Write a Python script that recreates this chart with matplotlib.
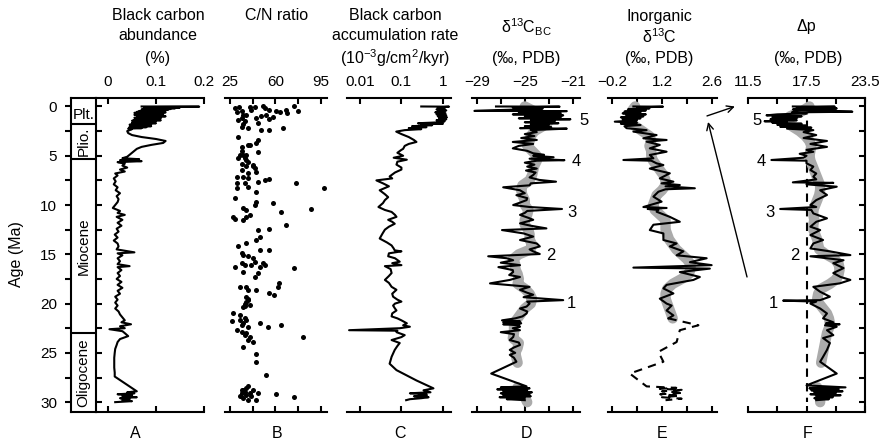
import matplotlib
matplotlib.use("Agg")
import matplotlib.pyplot as plt
from matplotlib.ticker import FixedLocator, NullLocator

plt.rcParams['font.family'] = ['Liberation Sans', 'DejaVu Sans']
plt.rcParams['mathtext.fontset'] = 'custom'
plt.rcParams['mathtext.rm'] = 'Liberation Sans'
plt.rcParams['mathtext.it'] = 'Liberation Sans:italic'
plt.rcParams['mathtext.bf'] = 'Liberation Sans:bold'

# ---------------------------------------------------------------- data
# geologic epochs: (name, top age, base age) in Ma
epochs = [("Plt.", 0.0, 1.8), ("Plio.", 1.8, 5.3),
          ("Miocene", 5.3, 23.0), ("Oligocene", 23.0, 31.0)]

# A: black carbon abundance (%) vs age (Ma)
bc_abundance = [
    (0.0, 0.07), (0.02, 0.19), (0.06, 0.08), (0.1, 0.15), (0.14, 0.075), (0.18, 0.14),
    (0.22, 0.08), (0.26, 0.13), (0.3, 0.07), (0.34, 0.125), (0.38, 0.075), (0.42, 0.12),
    (0.46, 0.065), (0.5, 0.11), (0.55, 0.06), (0.6, 0.12), (0.65, 0.055), (0.7, 0.1),
    (0.75, 0.06), (0.8, 0.115), (0.85, 0.055), (0.9, 0.105), (0.95, 0.06), (1.0, 0.12),
    (1.05, 0.065), (1.1, 0.1), (1.15, 0.055), (1.2, 0.11), (1.25, 0.06), (1.3, 0.095),
    (1.35, 0.055), (1.4, 0.11), (1.45, 0.05), (1.5, 0.1), (1.55, 0.055), (1.6, 0.095),
    (1.65, 0.05), (1.7, 0.1), (1.75, 0.05), (1.8, 0.09), (1.85, 0.045), (1.9, 0.085),
    (1.95, 0.05), (2.0, 0.09), (2.05, 0.045), (2.1, 0.08), (2.15, 0.045), (2.2, 0.07),
    (2.25, 0.042), (2.3, 0.05), (2.5, 0.04), (2.7, 0.042), (2.9, 0.05), (3.1, 0.07),
    (3.3, 0.1), (3.5, 0.12), (3.7, 0.115), (3.9, 0.09), (4.1, 0.07), (4.3, 0.06),
    (4.5, 0.055), (4.7, 0.05), (4.9, 0.045), (5.1, 0.04), (5.25, 0.03), (5.35, 0.065),
    (5.45, 0.025), (5.55, 0.07), (5.65, 0.02), (5.8, 0.035), (6.0, 0.03), (6.2, 0.04),
    (6.4, 0.025), (6.6, 0.035), (6.8, 0.015), (7.0, 0.02), (7.3, 0.012), (7.6, 0.016),
    (7.9, 0.012), (8.2, 0.02), (8.5, 0.016), (8.8, 0.025), (9.1, 0.018), (9.4, 0.022),
    (9.7, 0.02), (10.0, 0.015), (10.3, 0.01), (10.6, 0.025), (10.8, 0.02), (11.0, 0.035),
    (11.2, 0.018), (11.5, 0.03), (11.8, 0.02), (12.1, 0.028), (12.4, 0.018), (12.7, 0.022),
    (13.0, 0.014), (13.3, 0.02), (13.6, 0.012), (13.9, 0.02), (14.2, 0.022), (14.5, 0.018),
    (14.8, 0.055), (14.9, 0.02), (15.1, 0.03), (15.4, 0.02), (15.7, 0.025), (16.0, 0.02),
    (16.2, 0.045), (16.3, 0.02), (16.6, 0.028), (16.9, 0.02), (17.2, 0.025), (17.5, 0.018),
    (17.8, 0.028), (18.1, 0.02), (18.4, 0.03), (18.7, 0.02), (19.0, 0.025), (19.3, 0.015),
    (19.6, 0.02), (19.9, 0.015), (20.2, 0.02), (20.5, 0.015), (20.8, 0.022), (21.1, 0.025),
    (21.4, 0.03), (21.7, 0.035), (21.9, 0.028), (22.1, 0.048), (22.3, 0.025), (22.5, 0.035),
    (22.6, 0.003), (22.8, 0.03), (23.0, 0.035), (23.3, 0.042), (23.6, 0.025), (23.9, 0.02),
    (24.2, 0.018), (24.6, 0.015), (25.0, 0.014), (25.5, 0.013), (26.0, 0.013), (26.5, 0.013),
    (27.0, 0.014), (27.4, 0.014), (28.9, 0.06), (29.0, 0.04), (29.1, 0.055), (29.2, 0.02),
    (29.3, 0.05), (29.4, 0.03), (29.5, 0.06), (29.6, 0.025), (29.7, 0.045), (29.8, 0.03),
    (29.9, 0.05), (30.0, 0.015)]

# B: C/N ratio samples (ratio, age)
cn_ratio = [
    (28.8, 0.19), (31.8, 0.02), (33.9, 0.46), (30.1, 0.6), (40.2, 0.02), (44.0, 0.02),
    (50.4, 0.0), (52.2, 0.19), (55.4, 0.36), (60.5, 0.42), (63.1, 0.6), (68.1, 0.36),
    (68.9, 0.69), (74.5, 0.0), (77.0, 0.46), (41.5, 0.36), (35.1, 0.86), (37.7, 0.86),
    (33.9, 1.2), (31.3, 1.37), (36.4, 1.47), (45.3, 1.2), (49.1, 0.93), (52.9, 0.86),
    (54.7, 1.27), (58.0, 1.03), (35.1, 1.81), (33.9, 2.05), (38.9, 2.22), (46.5, 1.71),
    (49.1, 2.39), (55.4, 2.39), (65.6, 2.15), (31.3, 3.06), (46.5, 3.4), (45.3, 3.74),
    (40.2, 3.9), (46.5, 4.6), (33.9, 4.5), (35.1, 4.9), (31.3, 5.26), (37.0, 5.43),
    (33.9, 5.84), (37.7, 6.0), (42.7, 6.0), (44.0, 6.28), (33.9, 4.08), (38.9, 3.9),
    (32.6, 4.92), (37.7, 4.92), (36.4, 5.26), (38.9, 5.6), (42.7, 5.94), (33.9, 6.45),
    (38.9, 6.78), (45.3, 6.62), (30.1, 7.12), (35.1, 7.12), (38.9, 7.29), (46.5, 7.63),
    (51.6, 7.46), (55.4, 7.4), (75.8, 7.8), (30.1, 7.8), (36.4, 7.8), (38.9, 8.14),
    (45.3, 8.65), (30.1, 8.31), (28.8, 9.32), (35.1, 10.34), (37.7, 10.51), (44.0, 10.0),
    (45.3, 9.66), (58.0, 9.83), (64.3, 10.68), (68.1, 12.0), (27.5, 11.2), (28.8, 11.4),
    (35.1, 11.5), (37.7, 11.2), (40.2, 11.0), (46.5, 12.5), (55.4, 12.4), (47.8, 13.2),
    (45.3, 13.55), (37.7, 13.9), (31.3, 14.2), (33.9, 14.9), (35.1, 15.1), (38.9, 15.2),
    (47.8, 14.6), (55.4, 14.6), (42.7, 15.4), (44.0, 15.8), (50.4, 15.9), (51.6, 16.1),
    (28.8, 16.3), (33.9, 15.9), (36.4, 16.1), (41.5, 16.1), (47.8, 16.3), (74.5, 16.4),
    (35.1, 16.8), (44.0, 17.3), (46.5, 16.9), (32.6, 18.3), (37.7, 18.3), (38.9, 18.6),
    (45.3, 18.6), (63.0, 17.95), (61.8, 18.3), (55.4, 18.97), (59.2, 19.1), (38.9, 19.5),
    (37.7, 19.8), (36.4, 20.2), (35.1, 20.3), (97.3, 8.3), (87.6, 10.4),
    (37.7, 19.3), (38.9, 19.6), (36.4, 20.0), (40.2, 20.1), (27.5, 21.0), (32.6, 21.2),
    (36.4, 21.5), (32.6, 21.7), (37.7, 21.7), (35.1, 22.0), (33.9, 22.2), (38.9, 22.4),
    (47.8, 22.0), (54.1, 22.4), (64.3, 22.2), (30.1, 22.7), (33.9, 22.9), (37.7, 23.0),
    (36.4, 23.2), (40.2, 23.4), (38.9, 23.7), (42.7, 23.9), (35.1, 24.4), (45.3, 25.1),
    (45.3, 25.9), (52.9, 27.2), (38.9, 28.4), (37.7, 28.6), (35.1, 28.8), (33.9, 29.1),
    (32.6, 29.4), (37.7, 29.3), (41.5, 29.4), (42.7, 28.8), (46.5, 29.1), (45.3, 29.8),
    (38.9, 29.8), (60.5, 29.2), (74.5, 29.5), (80.8, 23.4), (36.4, 29.0), (40.2, 29.1),
    (33.9, 28.8), (35.1, 29.6), (26.3, 21.8)]

# C: black carbon accumulation rate (10^-3 g/cm2/kyr)
bc_accumulation = [
    (0.0, 0.3), (0.02, 1.4), (0.1, 0.75), (0.2, 1.1), (0.3, 0.7), (0.4, 1.2), (0.5, 0.8),
    (0.6, 0.65), (0.7, 1.15), (0.8, 0.7), (0.9, 1.2), (1.0, 0.75), (1.1, 1.25), (1.2, 0.8),
    (1.3, 1.2), (1.4, 0.7), (1.5, 1.1), (1.6, 0.9), (1.7, 0.25), (1.75, 1.0), (1.8, 0.3),
    (1.9, 0.55), (2.0, 0.18), (2.1, 0.4), (2.2, 0.15), (2.3, 0.3), (2.4, 0.12), (2.55, 0.075),
    (2.8, 0.1), (3.1, 0.15), (3.4, 0.2), (3.6, 0.23), (3.8, 0.15), (4.0, 0.12), (4.3, 0.11),
    (4.4, 0.1), (4.7, 0.08), (5.0, 0.11), (5.2, 0.065), (5.4, 0.135), (5.6, 0.08),
    (5.9, 0.076), (6.2, 0.1), (6.4, 0.1), (6.7, 0.07), (7.1, 0.052), (7.3, 0.06),
    (7.5, 0.025), (7.8, 0.036), (8.1, 0.05), (8.5, 0.03), (8.9, 0.04), (9.2, 0.048),
    (9.5, 0.04), (9.8, 0.036), (10.2, 0.028), (10.5, 0.04), (10.7, 0.058), (11.0, 0.07),
    (11.2, 0.076), (11.5, 0.048), (11.7, 0.06), (11.9, 0.069), (12.2, 0.05), (12.5, 0.04),
    (12.9, 0.035), (13.4, 0.03), (13.8, 0.045), (14.1, 0.058), (14.4, 0.065), (14.6, 0.069),
    (14.7, 0.1), (14.9, 0.05), (15.2, 0.048), (15.4, 0.07), (15.75, 0.091), (15.9, 0.06),
    (16.1, 0.1), (16.2, 0.04), (16.5, 0.055), (16.9, 0.058), (17.2, 0.05), (17.6, 0.04),
    (17.9, 0.05), (18.3, 0.058), (18.6, 0.076), (19.0, 0.06), (19.3, 0.063), (19.6, 0.08),
    (19.8, 0.1), (20.0, 0.07), (20.2, 0.063), (20.5, 0.07), (20.7, 0.076), (21.0, 0.06),
    (21.3, 0.058), (21.5, 0.08), (21.7, 0.1), (22.0, 0.135), (22.2, 0.11), (22.35, 0.16),
    (22.5, 0.091), (22.7, 0.0055), (22.75, 0.08), (22.9, 0.076), (23.2, 0.12), (23.4, 0.1),
    (23.7, 0.058), (24.0, 0.091), (24.3, 0.08), (24.7, 0.069), (25.4, 0.058), (26.1, 0.052),
    (26.75, 0.076), (27.8, 0.23), (28.6, 0.59), (28.7, 0.45), (28.8, 0.34), (29.0, 0.5),
    (29.1, 0.16), (29.2, 0.4), (29.3, 0.41), (29.4, 0.2), (29.5, 0.45), (29.6, 0.3),
    (29.7, 0.16), (29.8, 0.13)]

# D: d13C of black carbon (permil PDB)
d13c_bc = [
    (0.0, -27.4), (0.02, -22.1), (0.1, -26.0), (0.2, -23.5), (0.3, -25.5), (0.45, -29.2),
    (0.47, -21.5), (0.6, -25.5), (0.7, -22.0), (0.8, -26.0), (0.9, -21.8), (1.0, -25.0),
    (1.1, -22.0), (1.2, -25.5), (1.3, -21.2), (1.4, -24.5), (1.5, -22.5), (1.6, -25.0),
    (1.7, -22.2), (1.8, -24.5), (1.9, -23.0), (2.0, -25.0), (2.1, -22.8), (2.2, -25.4),
    (2.25, -21.5), (2.4, -24.5), (2.6, -24.0), (2.8, -25.0), (3.0, -24.2), (3.2, -25.3),
    (3.4, -24.0), (3.6, -26.0), (3.8, -24.3), (4.0, -25.5), (4.25, -26.0), (4.5, -24.8),
    (4.75, -24.3), (4.9, -23.4), (5.0, -24.3), (5.15, -22.6), (5.3, -24.6), (5.45, -21.7),
    (5.5, -24.0), (5.7, -25.0), (5.9, -24.2), (6.1, -24.8), (6.3, -24.0), (6.5, -24.9),
    (6.7, -24.1), (6.95, -24.3), (7.2, -24.6), (7.45, -23.8), (7.63, -22.4), (7.8, -24.5),
    (8.0, -24.6), (8.2, -26.8), (8.5, -25.4), (8.8, -25.0), (9.0, -25.7), (9.3, -24.8),
    (9.5, -24.85), (9.8, -25.5), (10.0, -25.97), (10.2, -24.6), (10.4, -21.9), (10.6, -24.8),
    (10.8, -25.0), (11.0, -25.4), (11.3, -24.7), (11.5, -24.3), (11.86, -25.4), (12.1, -24.5),
    (12.37, -23.2), (12.54, -26.9), (12.88, -25.1), (13.2, -24.3), (13.55, -25.4),
    (13.9, -24.0), (14.2, -23.75), (14.5, -24.6), (14.7, -24.3), (14.97, -23.75),
    (15.2, -28.05), (15.4, -26.5), (15.6, -25.97), (15.85, -27.0), (16.1, -25.4),
    (16.3, -27.2), (16.6, -26.0), (16.8, -25.97), (17.1, -26.3), (17.3, -25.4),
    (17.6, -26.25), (17.95, -27.9), (18.3, -24.6), (18.6, -25.4), (18.9, -24.8),
    (19.1, -24.3), (19.35, -25.1), (19.65, -21.8), (19.8, -24.8), (20.0, -24.6),
    (20.3, -24.85), (20.5, -25.4), (20.8, -24.8), (21.0, -24.85), (21.3, -25.2),
    (21.5, -25.8), (21.7, -26.9), (21.8, -25.4), (21.9, -26.8), (22.0, -25.3), (22.1, -26.8),
    (22.2, -25.5), (22.35, -25.4), (22.5, -26.0), (22.7, -25.4), (22.9, -27.0), (23.1, -25.9),
    (23.4, -25.97), (23.7, -26.25), (23.95, -25.5), (24.2, -25.4), (24.45, -25.9),
    (24.7, -26.25), (25.0, -25.8), (25.2, -26.25), (25.5, -25.9), (25.9, -25.7),
    (27.1, -27.8), (28.4, -24.85), (28.5, -27.0), (28.6, -24.6), (28.7, -27.3), (28.8, -24.8),
    (28.9, -26.8), (29.0, -24.4), (29.1, -27.0), (29.2, -24.6), (29.3, -26.8), (29.4, -24.5),
    (29.5, -27.1), (29.6, -25.0), (29.7, -26.5), (29.8, -25.0)]

d13c_bc_smooth_upper = [
    (0.0, -25.0), (0.5, -24.2), (1.0, -23.5), (1.5, -23.0), (2.0, -23.5), (2.5, -24.2),
    (3.0, -24.5), (3.5, -24.6), (4.0, -24.8), (4.5, -24.4), (5.0, -24.0), (5.5, -24.0),
    (6.0, -24.2), (6.5, -24.3), (7.0, -24.4), (7.5, -24.6), (8.0, -25.2), (8.5, -25.3),
    (9.0, -25.2), (9.5, -25.0), (10.0, -25.0), (10.5, -24.7), (11.0, -24.8), (11.5, -25.0),
    (12.0, -25.0), (12.5, -24.7), (13.0, -24.6), (13.5, -24.6), (14.0, -24.4), (14.5, -24.5),
    (15.0, -25.5), (15.5, -26.0), (16.0, -25.8), (16.5, -25.8), (17.0, -25.6), (17.5, -25.5),
    (18.0, -25.6), (18.5, -25.0), (19.0, -24.6), (19.5, -24.4), (20.0, -24.5), (20.5, -25.0),
    (21.0, -25.3), (21.5, -25.6), (22.0, -25.9), (22.5, -25.9), (23.0, -25.9), (23.5, -26.0),
    (24.0, -25.5), (24.5, -25.6), (25.0, -25.8), (25.5, -25.7), (26.0, -25.6)]
d13c_bc_smooth_lower = [(28.5, -25.6), (29.0, -25.4), (29.5, -25.0), (30.0, -24.8)]

# E: inorganic d13C (permil PDB)
d13c_inorg = [
    (0.0, 0.40), (0.02, 1.23), (0.1, 0.5), (0.19, 0.85), (0.3, 0.25), (0.4, 0.75),
    (0.52, 0.15), (0.6, 0.6), (0.7, 0.1), (0.8, 0.75), (0.9, 0.2), (1.0, 0.68), (1.1, 0.05),
    (1.2, 0.6), (1.3, 0.1), (1.4, 0.5), (1.54, -0.12), (1.65, 0.5), (1.75, 0.05),
    (1.88, 0.6), (2.0, 0.15), (2.2, 0.21), (2.4, 0.77), (2.55, 0.40), (2.9, 1.05),
    (3.23, 0.68), (3.4, 1.33), (3.57, 0.77), (3.9, 1.14), (4.25, 0.86), (4.59, 1.33),
    (4.92, 0.86), (5.26, 0.96), (5.43, 0.12), (5.5, 0.9), (5.77, 1.05), (5.94, 1.24),
    (6.3, 0.86), (6.78, 1.42), (7.3, 1.14), (7.63, 1.52), (7.8, 1.19), (7.97, 1.7),
    (8.1, 1.3), (8.3, 2.12), (8.4, 1.3), (8.65, 1.10), (9.15, 0.96), (9.66, 1.19),
    (10.2, 0.68), (10.3, 1.33), (10.4, 0.8), (10.5, 1.1), (10.68, 1.05), (11.2, 1.42),
    (11.7, 1.70), (12.0, 0.96), (12.54, 0.86), (12.88, 1.24), (13.55, 1.24), (13.9, 1.61),
    (14.2, 1.42), (14.7, 1.80), (15.1, 1.61), (15.4, 2.45), (15.8, 1.98), (16.1, 2.59),
    (16.35, 0.40), (16.45, 2.54), (16.8, 1.70), (17.3, 2.26), (17.6, 2.08), (18.1, 1.33),
    (18.46, 1.24), (18.97, 1.52), (19.5, 1.14), (20.0, 1.33), (20.2, 1.47), (20.7, 1.33),
    (21.2, 1.52), (21.5, 1.38)]
d13c_inorg_sparse = [
    (21.5, 1.38), (22.2, 2.22), (22.7, 1.70), (23.9, 1.61), (24.9, 1.10), (25.9, 1.24),
    (27.1, 0.30), (28.4, 0.77), (28.55, 1.6), (28.65, 1.14), (28.75, 1.75), (28.9, 1.2),
    (29.05, 1.8), (29.2, 1.15), (29.35, 1.7), (29.5, 1.2), (29.65, 1.75), (29.8, 1.3)]
d13c_inorg_smooth = [
    (0.0, 0.45), (0.5, 0.35), (1.0, 0.3), (1.5, 0.3), (2.0, 0.45), (2.5, 0.65), (3.0, 0.85),
    (3.5, 0.9), (4.0, 0.85), (4.5, 0.9), (5.0, 0.9), (5.5, 0.95), (6.0, 1.05), (6.5, 1.15),
    (7.0, 1.25), (7.5, 1.3), (8.0, 1.3), (8.5, 1.2), (9.0, 1.05), (9.5, 1.0), (10.0, 0.95),
    (10.5, 1.0), (11.0, 1.15), (11.5, 1.3), (12.0, 1.3), (12.5, 1.3), (13.0, 1.35),
    (13.5, 1.4), (14.0, 1.5), (14.5, 1.6), (15.0, 1.75), (15.5, 1.9), (16.0, 2.0),
    (16.5, 2.0), (17.0, 1.95), (17.5, 1.75), (18.0, 1.5), (18.5, 1.35), (19.0, 1.3),
    (19.5, 1.3), (20.0, 1.35), (20.5, 1.4), (21.0, 1.45), (21.5, 1.5)]

# F: isotopic fractionation, delta p (permil PDB)
delta_p = [
    (0.0, 16.1), (0.02, 20.4), (0.1, 16.5), (0.2, 20.6), (0.3, 16.1), (0.4, 18.5),
    (0.53, 22.2), (0.6, 16.0), (0.7, 17.5), (0.8, 14.5), (0.9, 13.4), (1.0, 17.0),
    (1.1, 14.0), (1.2, 16.5), (1.3, 13.8), (1.4, 16.5), (1.5, 13.2), (1.55, 15.5),
    (1.65, 14.0), (1.75, 17.0), (1.85, 14.5), (1.95, 17.5), (2.05, 14.8), (2.15, 18.0),
    (2.25, 15.5), (2.4, 18.2), (2.6, 17.2), (2.9, 18.5), (3.2, 17.2), (3.5, 19.6),
    (3.8, 17.9), (4.1, 19.6), (4.4, 17.5), (4.6, 18.2), (4.8, 16.8), (5.0, 17.5),
    (5.2, 17.2), (5.43, 13.9), (5.5, 17.5), (5.77, 17.5), (6.1, 18.2), (6.45, 17.9),
    (6.8, 18.5), (7.12, 18.2), (7.4, 18.5), (7.7, 16.1), (7.75, 20.25), (7.9, 17.5),
    (8.14, 20.6), (8.5, 18.9), (8.98, 19.6), (9.5, 18.5), (10.0, 17.9), (10.2, 18.5),
    (10.4, 14.8), (10.5, 18.0), (10.85, 18.2), (11.35, 19.6), (11.7, 18.5), (12.2, 17.9),
    (12.54, 18.9), (13.05, 17.9), (13.55, 19.2), (13.9, 18.2), (14.4, 17.9), (14.7, 19.9),
    (15.08, 22.0), (15.2, 17.9), (15.6, 21.3), (15.9, 20.25), (16.4, 21.3), (16.9, 20.25),
    (17.3, 21.0), (17.6, 22.0), (17.95, 20.9), (18.3, 18.2), (18.8, 18.9), (19.3, 19.9),
    (19.65, 18.9), (19.7, 15.1), (19.8, 18.5), (20.0, 17.9), (20.5, 18.9), (21.0, 19.6),
    (21.5, 19.2), (21.9, 20.25), (22.0, 19.5), (22.1, 20.9), (22.2, 19.4), (22.35, 20.6),
    (22.7, 19.6), (23.2, 20.25), (23.5, 19.2), (24.0, 19.9), (24.7, 19.6), (25.4, 19.2),
    (25.9, 18.9), (27.1, 20.6), (28.3, 17.5), (28.5, 21.5), (28.6, 17.8), (28.7, 20.8),
    (28.8, 18.0), (28.9, 21.2), (29.0, 18.3), (29.1, 20.5), (29.2, 17.9), (29.3, 21.0),
    (29.4, 18.5), (29.5, 20.2), (29.6, 18.3), (29.7, 19.8), (29.8, 18.5)]
delta_p_smooth_upper = [
    (0.0, 17.8), (0.5, 17.0), (1.0, 15.8), (1.5, 15.5), (2.0, 16.0), (2.5, 16.8), (3.0, 17.4),
    (3.5, 17.8), (4.0, 18.0), (4.5, 17.9), (5.0, 17.8), (5.5, 17.9), (6.0, 18.1), (6.5, 18.3),
    (7.0, 18.5), (7.5, 18.7), (8.0, 18.9), (8.5, 18.9), (9.0, 18.8), (9.5, 18.6), (10.0, 18.4),
    (10.5, 18.2), (11.0, 18.2), (11.5, 18.3), (12.0, 18.2), (12.5, 18.2), (13.0, 18.4),
    (13.5, 18.6), (14.0, 18.7), (14.5, 18.8), (15.0, 19.5), (15.5, 20.4), (16.0, 20.8),
    (16.5, 20.9), (17.0, 20.8), (17.5, 20.6), (18.0, 19.9), (18.5, 19.0), (19.0, 18.7),
    (19.5, 18.6), (20.0, 18.8), (20.5, 19.2), (21.0, 19.6), (21.5, 19.8), (22.0, 19.9),
    (22.5, 19.8), (23.0, 19.6), (23.5, 19.5), (24.0, 19.4), (24.5, 19.3), (25.0, 19.2),
    (25.5, 19.1), (26.0, 19.0)]
delta_p_smooth_lower = [(28.5, 18.6), (29.0, 18.8), (29.5, 18.9), (30.0, 18.9)]
delta_p_reference = 17.5

# numbered events marked on D and F
event_labels = ["5", "4", "3", "2", "1"]
event_ages = [1.4, 5.6, 10.75, 15.1, 20.0]
event_d13c = [-20.1, -20.7, -21.1, -22.8, -21.1]
event_dp = [12.4, 12.9, 13.75, 16.3, 14.1]

# ---------------------------------------------------------------- layout
W, H = 886, 445
fig = plt.figure(figsize=(W / 100, H / 100), dpi=100)
Y_TOP, Y_BOT = 98, 412
AGE_LIM = (31.0, -0.86)
LW = 1.5
LINE_LW = 1.5
GREY = '#ababab'
BAND_LW = 7.5


def panel(x0, x1):
    return fig.add_axes([x0 / W, 1 - Y_BOT / H, (x1 - x0) / W, (Y_BOT - Y_TOP) / H])


def style(ax, xlim, ticks, labels, log=False):
    if log:
        ax.set_xscale('log')
    ax.set_xlim(*xlim)
    ax.set_ylim(*AGE_LIM)
    for s in ('left', 'right'):
        ax.spines[s].set_visible(False)
    for s in ('top', 'bottom'):
        ax.spines[s].set_linewidth(LW)
    ax.xaxis.set_major_locator(FixedLocator(ticks))
    ax.xaxis.set_minor_locator(NullLocator())
    ax.set_xticklabels(labels)
    ax.tick_params(axis='x', which='both', direction='in', top=True, bottom=True,
                   labeltop=True, labelbottom=False, length=4, width=LW,
                   pad=6.5, labelsize=11)
    ax.tick_params(axis='y', which='both', left=False, right=False,
                   labelleft=False, labelright=False)
    ax.patch.set_alpha(0)


def unzip(pairs):
    a, b = zip(*pairs)
    return list(a), list(b)


# epoch column with the age axis
ax0 = panel(71, 96)
ax0.set_xlim(0, 1)
ax0.set_ylim(*AGE_LIM)
for s in ax0.spines.values():
    s.set_linewidth(LW)
ax0.set_xticks([])
age_ticks = [0, 2.5, 5, 7.5, 10, 12.5, 15, 17.5, 20, 22.5, 25, 27.5, 30]
ax0.yaxis.set_major_locator(FixedLocator(age_ticks))
ax0.set_yticklabels([f"{t:g}" if t % 5 == 0 else "" for t in age_ticks])
ax0.tick_params(axis='y', direction='out', left=True, right=True, length=4,
                width=LW, pad=6, labelsize=11)
for name, top, base in epochs:
    if top > 0:
        ax0.axhline(top, color='k', lw=LW)
    mid = (top + base) / 2
    if name == "Plt.":
        ax0.text(0.5, mid, name, ha='center', va='center', fontsize=11)
    else:
        ax0.text(0.5, mid, name, ha='center', va='center', fontsize=11, rotation=90)
fig.text(17 / W, 1 - 254 / H, "Age (Ma)", rotation=90, ha='center', va='center',
         fontsize=11.5)

# A
axA = panel(96, 204)
style(axA, (-0.025, 0.2), [0, 0.1, 0.2], ["0", "0.1", "0.2"])
y, x = unzip(bc_abundance)
axA.plot(x, y, color='k', lw=LINE_LW)

# B
axB = panel(225, 327)
style(axB, (21.2, 99.6), [25, 42.5, 60, 77.5, 95], ["25", "", "60", "", "95"])
x, y = unzip(cn_ratio)
axB.scatter(x, y, s=13, color='k', linewidths=0)

# C
axC = panel(347, 451)
style(axC, (0.0049, 1.56), [0.01, 0.1, 1], ["0.01", "0.1", "1"], log=True)
y, x = unzip(bc_accumulation)
axC.plot(x, y, color='k', lw=LINE_LW)

# D
axD = panel(472, 580)
style(axD, (-29.4, -20.4), [-29, -27, -25, -23, -21],
      ["\u221229", "", "\u221225", "", "\u221221"])
for seg in (d13c_bc_smooth_upper, d13c_bc_smooth_lower):
    y, x = unzip(seg)
    axD.plot(x, y, color=GREY, lw=BAND_LW, solid_capstyle='round', solid_joinstyle='round')
y, x = unzip(d13c_bc)
axD.plot(x, y, color='k', lw=LINE_LW)
for lab, age, xv in zip(event_labels, event_ages, event_d13c):
    axD.text(xv, age, lab, ha='center', va='center', fontsize=12, clip_on=False)

# E
axE = panel(608, 717)
style(axE, (-0.31, 2.74), [-0.2, 0.5, 1.2, 1.9, 2.6], ["\u22120.2", "", "1.2", "", "2.6"])
y, x = unzip(d13c_inorg_smooth)
axE.plot(x, y, color=GREY, lw=BAND_LW, solid_capstyle='round', solid_joinstyle='round')
y, x = unzip(d13c_inorg)
axE.plot(x, y, color='k', lw=LINE_LW)
y, x = unzip(d13c_inorg_sparse)
axE.plot(x, y, color='k', lw=LINE_LW, dashes=(4, 3))
axE.annotate("", xy=(2.49, 1.57), xytext=(3.58, 17.3),
             arrowprops=dict(arrowstyle='->', lw=1.0, color='k', mutation_scale=12,
                             shrinkA=0, shrinkB=0), annotation_clip=False)
axE.annotate("", xy=(3.24, 0.0), xytext=(2.46, 0.96),
             arrowprops=dict(arrowstyle='->', lw=1.0, color='k', mutation_scale=12,
                             shrinkA=0, shrinkB=0), annotation_clip=False)

# F
axF = panel(748, 865)
style(axF, (11.5, 23.5), [11.5, 14.5, 17.5, 20.5, 23.5], ["11.5", "", "17.5", "", "23.5"])
axF.spines['right'].set_visible(True)
axF.spines['right'].set_linewidth(LW)
axF.yaxis.set_major_locator(FixedLocator(age_ticks))
axF.tick_params(axis='y', right=True, direction='in', length=4, width=LW,
                labelright=False)
axF.vlines(delta_p_reference, 0, 30, color='k', lw=LINE_LW, linestyles=(0, (4, 3)))
for seg in (delta_p_smooth_upper, delta_p_smooth_lower):
    y, x = unzip(seg)
    axF.plot(x, y, color=GREY, lw=BAND_LW, solid_capstyle='round', solid_joinstyle='round')
y, x = unzip(delta_p)
axF.plot(x, y, color='k', lw=LINE_LW)
for lab, age, xv in zip(event_labels, event_ages, event_dp):
    axF.text(xv, age, lab, ha='center', va='center', fontsize=12, clip_on=False)


# column headings
def heading(xc, yc, s):
    fig.text(xc / W, 1 - yc / H, s, ha='center', va='center', fontsize=11.5)


heading(158, 16, "Black carbon")
heading(158, 36, "abundance")
heading(158, 58, "(%)")
heading(277, 16, "C/N ratio")
heading(395, 16, "Black carbon")
heading(395, 36, "accumulation rate")
heading(395, 58, r"(10$^{\mathregular{-3}}$g/cm$^{\mathregular{2}}$/kyr)")
heading(526, 27, r"δ$^{\mathregular{13}}$C$_{\mathregular{BC}}$")
heading(526, 58, "(‰, PDB)")
heading(659, 16, "Inorganic")
heading(659, 37, r"δ$^{\mathregular{13}}$C")
heading(659, 58, "(‰, PDB)")
heading(806, 26, "Δp")
heading(808, 58, "(‰, PDB)")

for lab, xc in zip("ABCDEF", [135, 277, 400, 527, 662, 808]):
    fig.text(xc / W, 1 - 433 / H, lab, ha='center', va='center', fontsize=11.5)

fig.savefig("out.png", dpi=100)
